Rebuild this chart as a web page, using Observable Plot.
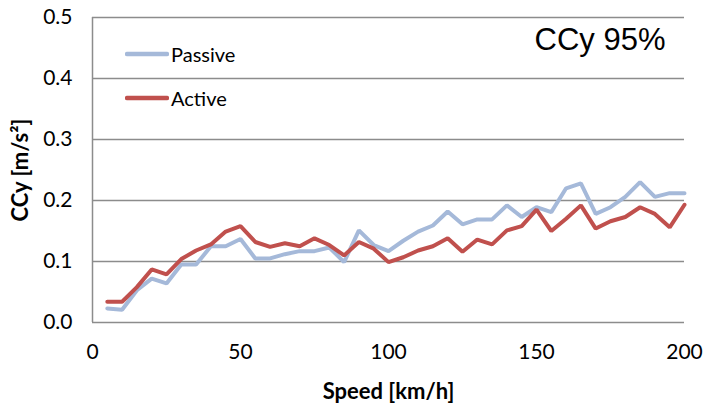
<!DOCTYPE html>
<html>
<head>
<meta charset="utf-8">
<script src="https://cdn.jsdelivr.net/npm/d3@7"></script>
<script src="https://cdn.jsdelivr.net/npm/@observablehq/plot@0.6"></script>
<style>
  html, body { margin: 0; padding: 0; background: #fff; }
  #wrap { position: relative; width: 705px; height: 407px; }
  #chart svg { font-family: Lato, "Open Sans", sans-serif; }
  #chart svg [aria-label="x-axis label"] text,
  #chart svg [aria-label="y-axis label"] text,
  #chart svg [aria-label="x-axis label"],
  #chart svg [aria-label="y-axis label"] { font-weight: bold; font-size: 22px; }
  #legend { position: absolute; left: 125px; top: 32px; font-family: Lato, "Open Sans", sans-serif; font-size: 20px; color: #000; }
  .item { display: flex; align-items: center; height: 44px; }
  .item svg { margin-right: 2px; }
</style>
</head>
<body>
<div id="wrap">
  <div id="chart"></div>
  <div id="legend"></div>
</div>
<script>
const speeds = [5,10,15,20,25,30,35,40,45,50,55,60,65,70,75,80,85,90,95,100,105,110,115,120,125,130,135,140,145,150,155,160,165,170,175,180,185,190,195,200];
const passive = [0.023,0.021,0.053,0.072,0.064,0.095,0.095,0.125,0.125,0.137,0.105,0.105,0.112,0.117,0.117,0.123,0.099,0.151,0.127,0.117,0.134,0.149,0.159,0.182,0.161,0.169,0.169,0.192,0.173,0.189,0.181,0.220,0.228,0.178,0.189,0.206,0.230,0.206,0.212,0.212];
const active = [0.034,0.034,0.058,0.087,0.079,0.104,0.118,0.128,0.149,0.158,0.132,0.124,0.130,0.125,0.138,0.127,0.110,0.132,0.121,0.099,0.107,0.118,0.125,0.138,0.116,0.136,0.128,0.151,0.158,0.185,0.150,0.170,0.192,0.154,0.166,0.173,0.189,0.178,0.156,0.193];
const seriesNames = ["Passive", "Active"];
const seriesColors = ["#a5b9d9", "#c0504d"];
const xTicks = [0, 50, 100, 150, 200];
const yTicks = [0.0, 0.1, 0.2, 0.3, 0.4, 0.5];
const titleText = "CCy 95%";
const xLabel = "Speed [km/h]";
const yLabel = "CCy [m/s²]";

const rows = [];
speeds.forEach((s, i) => {
  rows.push({speed: s, value: passive[i], series: seriesNames[0]});
});
speeds.forEach((s, i) => {
  rows.push({speed: s, value: active[i], series: seriesNames[1]});
});

const chart = Plot.plot({
  width: 705,
  height: 407,
  marginLeft: 92,
  marginRight: 21,
  marginTop: 17,
  marginBottom: 85,
  style: {fontSize: "21px", fontFamily: "Lato, 'Open Sans', sans-serif", color: "#000", background: "#fff"},
  x: {domain: [0, 200], ticks: xTicks, tickSize: 0, tickPadding: 22, label: xLabel, labelArrow: false, labelAnchor: "center", labelOffset: 76},
  y: {domain: [0, 0.5], ticks: yTicks, tickSize: 0, tickPadding: 20, tickFormat: d3.format(".1f"), label: yLabel, labelArrow: false, labelAnchor: "center", labelOffset: 80},
  color: {domain: seriesNames, range: seriesColors},
  marks: [
    Plot.ruleY(yTicks.filter(d => d > 0), {stroke: "#8c8c8c", strokeWidth: 1.5}),
    Plot.ruleY([0], {stroke: "#8c8c8c", strokeWidth: 1.5}),
    Plot.ruleX([0], {stroke: "#8c8c8c", strokeWidth: 1.5}),
    Plot.line(rows, {x: "speed", y: "value", z: "series", stroke: "series", strokeWidth: 4, strokeLinejoin: "miter"}),
    Plot.text([titleText], {frameAnchor: "top-right", text: d => d, textAnchor: "end", lineAnchor: "bottom", dx: -19, dy: 32, fontSize: 31, fontFamily: "'Liberation Sans', Arial, sans-serif", fill: "#000"})
  ]
});
document.getElementById("chart").appendChild(chart);

const legend = d3.select("#legend");
seriesNames.forEach((name, i) => {
  const item = legend.append("div").attr("class", "item");
  const svg = item.append("svg").attr("width", 44).attr("height", 10);
  svg.append("line").attr("x1", 2).attr("x2", 42).attr("y1", 5).attr("y2", 5)
    .attr("stroke", seriesColors[i]).attr("stroke-width", 4.5).attr("stroke-linecap", "round");
  item.append("span").text(name);
});
</script>
</body>
</html>
